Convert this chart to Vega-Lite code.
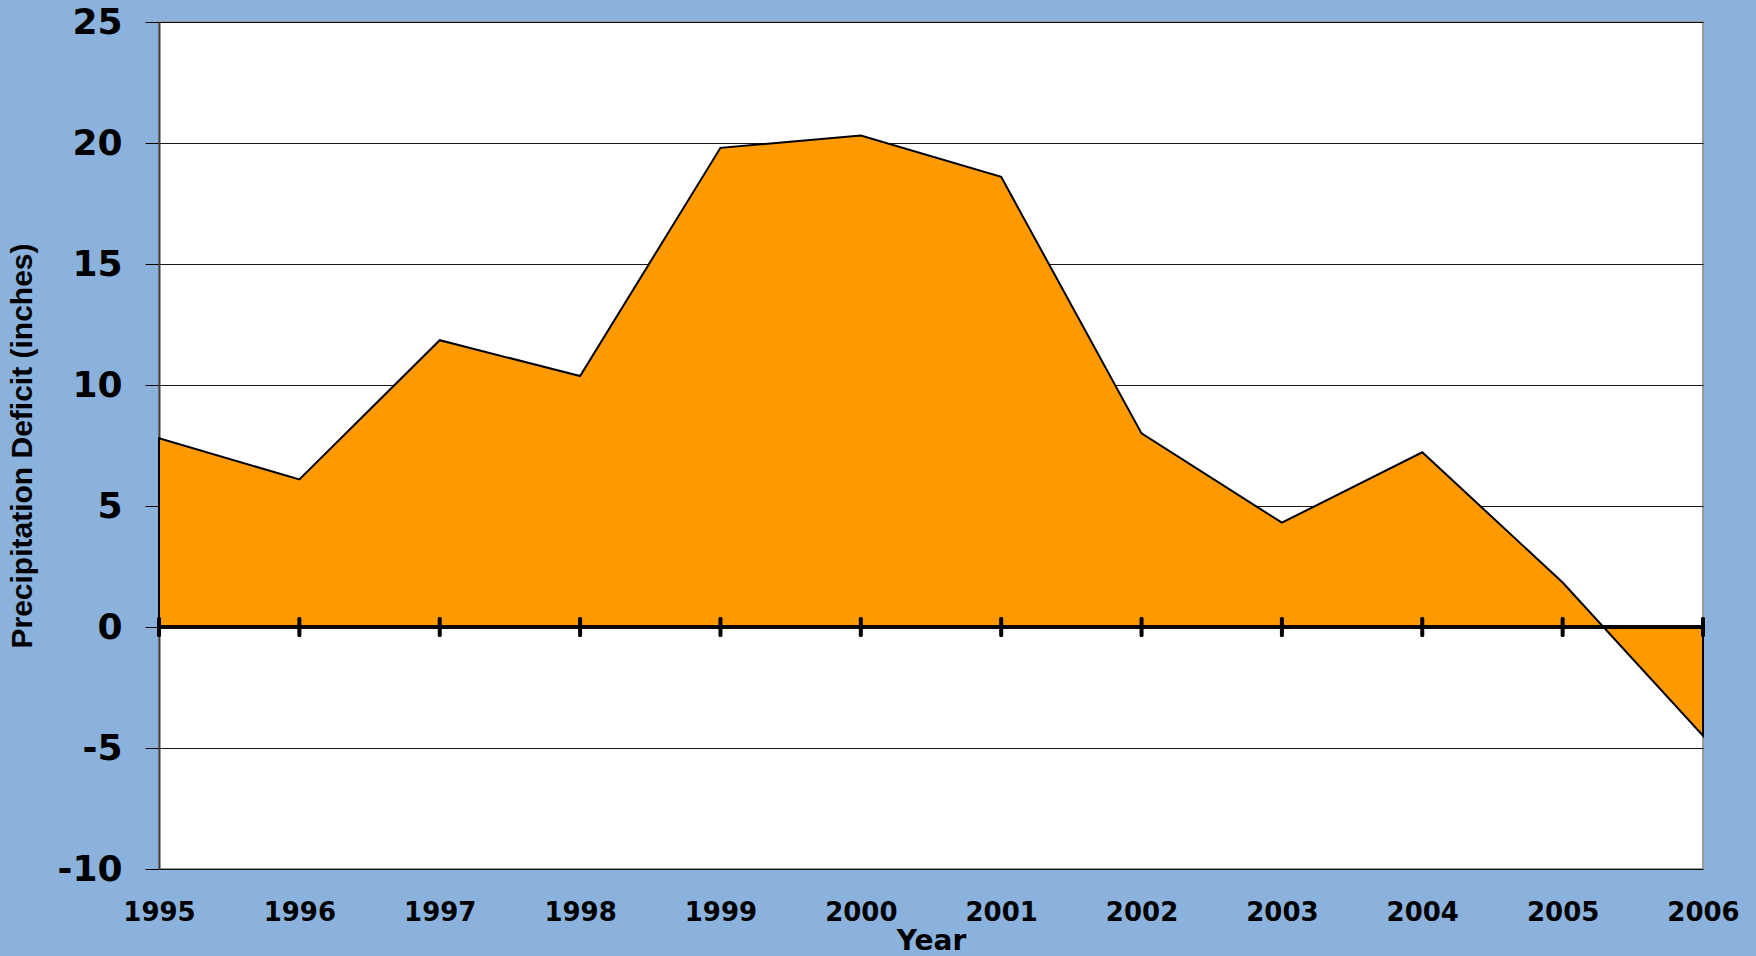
{
  "$schema": "https://vega.github.io/schema/vega-lite/v6.json",
  "autosize": "none",
  "width": 1544,
  "height": 847,
  "padding": {"left": 159, "top": 22, "right": 53, "bottom": 87},
  "background": "#8ab2dc",
  "config": {
    "view": {"fill": "white", "stroke": "#999999", "strokeWidth": 2}
  },
  "data": {
    "values": [
      {"year": 1995, "deficit": 7.8},
      {"year": 1996, "deficit": 6.1},
      {"year": 1997, "deficit": 11.85},
      {"year": 1998, "deficit": 10.37},
      {"year": 1999, "deficit": 19.8},
      {"year": 2000, "deficit": 20.31},
      {"year": 2001, "deficit": 18.6},
      {"year": 2002, "deficit": 8.0},
      {"year": 2003, "deficit": 4.31},
      {"year": 2004, "deficit": 7.22},
      {"year": 2005, "deficit": 1.84},
      {"year": 2006, "deficit": -4.49}
    ]
  },
  "layer": [
    {
      "mark": {"type": "area", "fill": "#ff9900", "stroke": "black", "strokeWidth": 2, "fillOpacity": 1},
      "encoding": {
        "x": {
          "field": "year", "type": "quantitative",
          "scale": {"domain": [1995, 2006], "nice": false, "zero": false},
          "axis": {
            "values": [1995, 1996, 1997, 1998, 1999, 2000, 2001, 2002, 2003, 2004, 2005, 2006],
            "format": "d", "grid": false, "domain": false, "ticks": false,
            "labelFont": "DejaVu Sans", "labelFontWeight": "bold", "labelFontSize": 26, "labelColor": "black",
            "labelPadding": 30, "labelFlush": false, "labelOverlap": false,
            "title": "Year", "titleFont": "DejaVu Sans", "titleFontWeight": "bold", "titleFontSize": 28,
            "titleColor": "black", "titlePadding": 2
          }
        },
        "y": {
          "field": "deficit", "type": "quantitative",
          "scale": {"domain": [-10, 25], "nice": false},
          "axis": {
            "values": [-10, -5, 0, 5, 10, 15, 20, 25],
            "labelExpr": "'' + datum.value",
            "grid": true, "gridColor": "black", "gridWidth": 1, "gridOpacity": 0.9,
            "domain": true, "domainColor": "#404040", "domainWidth": 2,
            "ticks": true, "tickColor": "black", "tickSize": 14, "tickWidth": 1,
            "labelFont": "DejaVu Sans", "labelFontWeight": "bold", "labelFontSize": 36, "labelColor": "black",
            "labelPadding": 23, "labelFlush": false, "labelOverlap": false,
            "title": "Precipitation Deficit (inches)", "titleFont": "Liberation Sans", "titleFontWeight": "bold",
            "titleFontSize": 30, "titleColor": "black", "titlePadding": 19
          }
        }
      }
    },
    {
      "mark": {"type": "rule", "color": "black", "strokeWidth": 4},
      "encoding": {"y": {"datum": 0}}
    },
    {
      "mark": {"type": "tick", "orient": "vertical", "color": "black", "size": 20, "thickness": 4, "cornerRadius": 1.5, "opacity": 1},
      "encoding": {
        "x": {"field": "year", "type": "quantitative"},
        "y": {"datum": 0}
      }
    }
  ]
}
